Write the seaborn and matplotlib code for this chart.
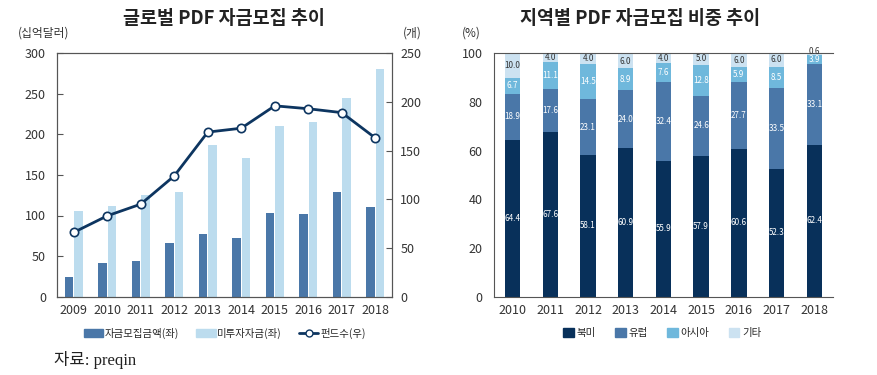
import numpy as np
import pandas as pd
import matplotlib.pyplot as plt
import seaborn as sns
from matplotlib.patches import Patch
from matplotlib.lines import Line2D

# left chart: global PDF fundraising
years = ["2009", "2010", "2011", "2012", "2013", "2014", "2015", "2016", "2017", "2018"]
raised = [24, 41, 44, 66, 77, 72, 103, 102, 129, 110]
dry_powder = [105, 112, 125, 129, 187, 171, 210, 215, 245, 280]
fund_count = [66, 83, 95, 124, 169, 173, 196, 193, 189, 163]

# right chart: share by region (%)
region_years = ["2010", "2011", "2012", "2013", "2014", "2015", "2016", "2017", "2018"]
north_america = [64.4, 67.6, 58.1, 60.9, 55.9, 57.9, 60.6, 52.3, 62.4]
europe = [18.9, 17.6, 23.1, 24.0, 32.4, 24.6, 27.7, 33.5, 33.1]
asia = [6.7, 11.1, 14.5, 8.9, 7.6, 12.8, 5.9, 8.5, 3.9]
other = [10.0, 4.0, 4.0, 6.0, 4.0, 5.0, 6.0, 6.0, 0.6]
region_names = ["북미", "유럽", "아시아", "기타"]

c_raised = "#4a77a8"
c_dry = "#bcdcee"
c_line = "#0d3560"
region_colors = ["#08305a", "#4a77a8", "#6fb8dc", "#cce2f1"]

sns.set_style("white")
plt.rcParams["font.family"] = ["Noto Sans CJK KR", "DejaVu Sans"]
plt.rcParams["axes.edgecolor"] = "#555555"
plt.rcParams["xtick.color"] = "#555555"
plt.rcParams["ytick.color"] = "#555555"
plt.rcParams["xtick.labelcolor"] = "#333333"
plt.rcParams["ytick.labelcolor"] = "#333333"

fig = plt.figure(figsize=(8.77, 3.75), dpi=100)
ax1 = fig.add_axes([0.065, 0.209, 0.382, 0.649])
ax3 = fig.add_axes([0.563, 0.209, 0.387, 0.649])

# ---- left ----
df = pd.DataFrame({
    "year": years * 2,
    "value": raised + dry_powder,
    "kind": ["자금모집금액(좌)"] * len(years) + ["미투자자금(좌)"] * len(years),
})
sns.barplot(data=df, x="year", y="value", hue="kind", palette=[c_raised, c_dry],
            width=0.56, gap=0.12, saturation=1, legend=False, linewidth=0, ax=ax1)
ax1.set_ylim(0, 300)
ax1.set_yticks(range(0, 301, 50))
ax1.set_xlim(-0.5, len(years) - 0.5)
ax1.set_xlabel("")
ax1.set_ylabel("")

ax2 = ax1.twinx()
ax2.plot(np.arange(len(years)), fund_count, color=c_line, lw=2, marker="o", ms=6,
         mfc="white", mec=c_line, mew=1.2, zorder=5)
ax2.set_ylim(0, 250)
ax2.set_yticks(range(0, 251, 50))
ax2.set_xlim(-0.5, len(years) - 0.5)

for ax in (ax1, ax2):
    for s in ax.spines.values():
        s.set_visible(True)
        s.set_linewidth(0.8)
ax1.tick_params(axis="y", direction="in", length=4, labelsize=9, pad=8)
ax2.tick_params(axis="y", direction="in", length=4, labelsize=9, pad=6)
ax1.tick_params(axis="x", which="major", length=0, labelsize=9, pad=5)
ax1.set_xticks(np.arange(len(years) - 1) + 0.5, minor=True)
ax1.tick_params(axis="x", which="minor", direction="out", length=5)

fig.text(0.255, 0.952, "글로벌 PDF 자금모집 추이", ha="center", va="center",
         fontsize=13.3, fontweight="bold", color="#222222")
fig.text(0.02, 0.912, "(십억달러)", ha="left", va="center", fontsize=8.5, color="#333333")
fig.text(0.459, 0.912, "(개)", ha="left", va="center", fontsize=8.5, color="#333333")

handles1 = [Patch(color=c_raised), Patch(color=c_dry),
            Line2D([], [], color=c_line, lw=2, marker="o", ms=5, mfc="white", mec=c_line)]
fig.legend(handles1, ["자금모집금액(좌)", "미투자자금(좌)", "펀드수(우)"], loc="center",
           bbox_to_anchor=(0.256, 1 - 333 / 375), ncol=3, frameon=False, fontsize=7.5,
           handlelength=1.9, handleheight=0.8, columnspacing=1.6, handletextpad=0.15)

fig.text(0.062, 1 - 360 / 375, "자료: preqin", ha="left", va="center", fontsize=12,
         family=["Liberation Serif", "Noto Sans CJK KR"], color="#222222")

# ---- right ----
layers = [north_america, europe, asia, other]
tops = np.cumsum(np.array(layers), axis=0)
for k in range(len(layers) - 1, -1, -1):
    sns.barplot(x=region_years, y=tops[k], color=region_colors[k], width=0.41,
                saturation=1, linewidth=0, ax=ax3)
for k, vals in enumerate(layers):
    bottoms = tops[k] - np.array(vals)
    for i, v in enumerate(vals):
        mid = (bottoms[i] + tops[k][i]) / 2
        if k == 3 and v < 2:
            mid = 100.6
        ax3.text(i, mid, f"{v:.1f}", ha="center", va="center", fontsize=5.8,
                 color="white" if k < 3 else "#333333")
ax3.set_ylim(0, 100)
ax3.set_yticks(range(0, 101, 20))
ax3.set_xlim(-0.5, len(region_years) - 0.5)
ax3.set_xlabel("")
ax3.set_ylabel("")
for side in ("left", "bottom", "top"):
    ax3.spines[side].set_visible(True)
    ax3.spines[side].set_linewidth(0.8)
ax3.spines["right"].set_visible(False)
ax3.tick_params(axis="y", direction="in", length=4, labelsize=9, pad=8)
ax3.tick_params(axis="x", which="major", length=0, labelsize=9, pad=5)
ax3.set_xticks(np.arange(len(region_years) - 1) + 0.5, minor=True)
ax3.tick_params(axis="x", which="minor", direction="out", length=5)

fig.text(0.73, 0.952, "지역별 PDF 자금모집 비중 추이", ha="center", va="center",
         fontsize=13.3, fontweight="bold", color="#222222")
fig.text(0.527, 0.912, "(%)", ha="left", va="center", fontsize=8.5, color="#333333")

handles2 = [Patch(color=c) for c in region_colors]
fig.legend(handles2, region_names, loc="center", bbox_to_anchor=(0.755, 1 - 333 / 375),
           ncol=4, frameon=False, fontsize=7.5, handlelength=1.0, handleheight=1.0,
           columnspacing=1.9, handletextpad=0.25)

fig.savefig("out.png", dpi=100)
